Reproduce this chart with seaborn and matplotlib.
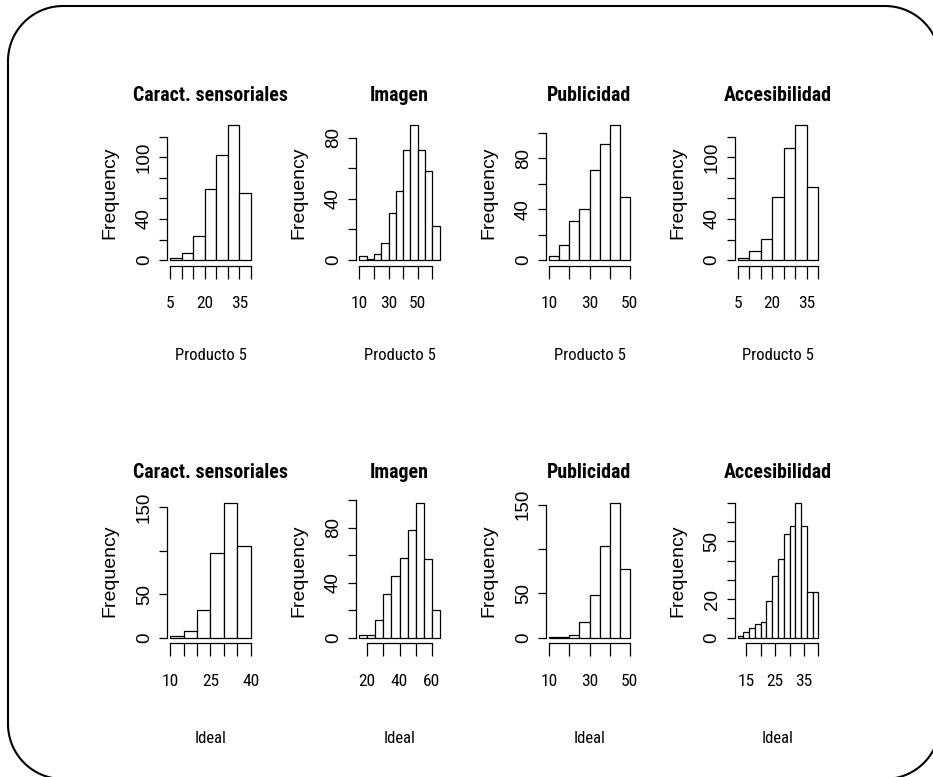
import numpy as np
import pandas as pd
import matplotlib
matplotlib.use("Agg")
import matplotlib.pyplot as plt
from matplotlib.lines import Line2D
import seaborn as sns

# Datos (frecuencias por intervalo)
titles = ["Caract. sensoriales", "Imagen", "Publicidad", "Accesibilidad"]
row_labels = ["Producto 5", "Ideal"]

p5_sens = [2, 7, 23, 69, 102, 131, 65]
p5_imagen = [3, 1, 4, 11, 31, 45, 72, 88, 72, 58, 22]
p5_publi = [3, 12, 31, 40, 71, 91, 106, 50]
p5_acces = [2, 9, 21, 61, 109, 131, 71]
id_sens = [2, 8, 32, 98, 155, 105]
id_imagen = [2, 2, 13, 32, 45, 58, 78, 98, 57, 20]
id_publi = [1, 1, 3, 18, 48, 103, 152, 77]
id_acces = [1, 3, 5, 7, 8, 19, 32, 41, 54, 58, 70, 58, 24, 24]

bin_start = [5, 10, 10, 5, 10, 15, 10, 12]
bin_width = [5, 5, 5, 5, 5, 5, 5, 2]

x_ticks = [list(range(5, 41, 5)), list(range(10, 61, 10)), list(range(10, 51, 10)),
           list(range(5, 41, 5)), list(range(10, 41, 5)), list(range(20, 61, 10)),
           list(range(10, 51, 10)), list(range(15, 41, 5))]
x_shown = [[5, 20, 35], [10, 30, 50], [10, 30, 50], [5, 20, 35],
           [10, 25, 40], [20, 40, 60], [10, 30, 50], [15, 25, 35]]
y_ticks = [list(range(0, 121, 20)), list(range(0, 81, 20)), list(range(0, 101, 20)),
           list(range(0, 121, 20)), [0, 50, 100, 150], list(range(0, 101, 20)),
           [0, 50, 100, 150], list(range(0, 71, 10))]
y_shown = [[0, 40, 100], [0, 40, 80], [0, 40, 80], [0, 40, 100],
           [0, 50, 150], [0, 40, 80], [0, 50, 150], [0, 20, 50]]

counts = [p5_sens, p5_imagen, p5_publi, p5_acces, id_sens, id_imagen, id_publi, id_acces]

sns.set_style("white")
narrow = ['Liberation Sans Narrow', 'Roboto Condensed', 'Liberation Sans']
wide = ['Liberation Sans', 'DejaVu Sans']
plt.rcParams['font.family'] = narrow
plt.rcParams['text.color'] = 'black'
plt.rcParams['axes.labelcolor'] = 'black'

fig = plt.figure(figsize=(9.33, 7.77), dpi=100)

# marco redondeado (abierto por la derecha, el borde queda fuera de la imagen)
L, R, B, T, r = 0.08, 9.40, -0.02, 7.71, 0.55


def arco(cx, cy, a0, a1):
    a = np.radians(np.linspace(a0, a1, 30))
    return list(cx + r * np.cos(a)), list(cy + r * np.sin(a))


xs, ys = [], []
for cx, cy, a0, a1 in [(R - r, T - r, 0, 90), (L + r, T - r, 90, 180),
                       (L + r, B + r, 180, 270), (R - r, B + r, 270, 360)]:
    ax_, ay_ = arco(cx, cy, a0, a1)
    xs += ax_
    ys += ay_
fig.add_artist(Line2D(xs, ys, transform=fig.dpi_scale_trans, color='black',
                      linewidth=1.5, clip_on=False))

lefts = [167, 356, 546, 734.5]
tops = [120, 497.6]
label_y = [-90, -95]
W, H = 933, 777
aw, ah = 87, 145.5

for i, cnt in enumerate(counts):
    row, col = divmod(i, 4)
    ax = fig.add_axes([lefts[col] / W, 1 - (tops[row] + ah) / H, aw / W, ah / H])
    edges = [bin_start[i] + bin_width[i] * k for k in range(len(cnt) + 1)]
    df = pd.DataFrame({'valor': [e + bin_width[i] / 2 for e in edges[:-1]], 'n': cnt})
    sns.histplot(data=df, x='valor', weights='n', bins=edges, ax=ax, color='white',
                 edgecolor='black', linewidth=0.9, alpha=1)
    rng = edges[-1] - edges[0]
    ax.set_xlim(edges[0] - 0.04 * rng, edges[-1] + 0.04 * rng)
    ymax = max(cnt)
    ax.set_ylim(-0.04 * ymax, 1.04 * ymax)
    ax.set_xticks(x_ticks[i])
    ax.set_yticks(y_ticks[i])
    sns.despine(ax=ax, trim=True)
    ax.set_xticklabels([str(t) if t in x_shown[i] else "" for t in x_ticks[i]],
                       family=narrow, fontsize=12.5)
    ax.set_yticklabels([str(t) if t in y_shown[i] else "" for t in y_ticks[i]],
                       family=wide, fontsize=13.5, rotation=90, va='center')
    for s in ['left', 'bottom']:
        ax.spines[s].set_linewidth(0.9)
        ax.spines[s].set_color('black')
    ax.tick_params(axis='x', bottom=True, length=9, width=0.9, pad=13, colors='black')
    ax.tick_params(axis='y', left=True, length=6, width=0.9, pad=4, colors='black')
    ax.set_title(titles[col], fontsize=14.3, fontweight='bold', family=narrow, pad=14)
    ax.set_xlabel(row_labels[row], fontsize=12, family=narrow, va='center')
    ax.xaxis.set_label_coords(0.5, label_y[row] / ah)
    ax.set_ylabel("Frequency", fontsize=14, family=wide, va='center')
    ax.yaxis.set_label_coords(-57 / aw, 0.5)
    ax.grid(False)

plt.savefig("out.png", dpi=100)
